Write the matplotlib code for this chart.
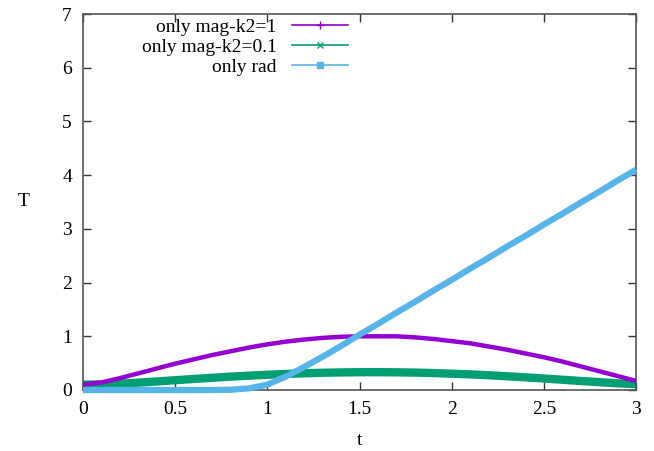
import matplotlib
matplotlib.use("Agg")
import matplotlib.pyplot as plt
from matplotlib.lines import Line2D

t = [0.0, 0.1, 0.2, 0.3, 0.4, 0.5, 0.6, 0.7, 0.8, 0.9, 1.0, 1.1, 1.2, 1.3, 1.4, 1.5,
     1.6, 1.7, 1.8, 1.9, 2.0, 2.1, 2.2, 2.3, 2.4, 2.5, 2.6, 2.7, 2.8, 2.9, 3.0]
mag_k2_1 = [0.10, 0.14, 0.22, 0.31, 0.40, 0.49, 0.57, 0.65, 0.72, 0.79, 0.85, 0.90, 0.94,
            0.97, 0.99, 1.00, 1.00, 1.00, 0.98, 0.95, 0.91, 0.87, 0.81, 0.75, 0.68, 0.61,
            0.53, 0.44, 0.35, 0.26, 0.17]
mag_k2_01 = [0.100, 0.105, 0.118, 0.137, 0.159, 0.182, 0.205, 0.227, 0.248, 0.267, 0.284,
             0.299, 0.311, 0.321, 0.327, 0.331, 0.332, 0.329, 0.324, 0.316, 0.304, 0.291,
             0.275, 0.256, 0.236, 0.214, 0.191, 0.168, 0.146, 0.125, 0.110]
rad = [0.0, 0.0, 0.0, 0.0, 0.0, 0.0, 0.0, 0.0, 0.005, 0.03, 0.10, 0.25, 0.43, 0.62, 0.82,
       1.03, 1.23, 1.44, 1.64, 1.85, 2.05, 2.26, 2.46, 2.67, 2.87, 3.08, 3.28, 3.49,
       3.69, 3.90, 4.10]
labels = ["only mag-k2=1", "only mag-k2=0.1", "only rad"]
xticks = [0, 0.5, 1, 1.5, 2, 2.5, 3]
xticklabels = ["0", "0.5", "1", "1.5", "2", "2.5", "3"]
yticks = [0, 1, 2, 3, 4, 5, 6, 7]

FS = 14
plt.rcParams['font.family'] = ['Liberation Serif', 'DejaVu Serif']
plt.rcParams['font.size'] = FS

fig = plt.figure(figsize=(6.54, 4.51), dpi=100)
ax = fig.add_axes([83/654, 1 - 390/451, (636-83)/654, (390-14)/451])

c1, c2, c3 = "#9400D3", "#009E73", "#56B4E9"
ax.plot(t, mag_k2_1, color=c1, lw=3.2, solid_capstyle='butt', zorder=3)
ax.plot(t, mag_k2_01, color=c2, lw=6.0, solid_capstyle='butt', zorder=2)
ax.plot(t, rad, color=c3, lw=4.5, solid_capstyle='butt', zorder=4, clip_on=False)

ax.set_xlim(0, 3)
ax.set_ylim(0, 7)
ax.set_xticks(xticks)
ax.set_xticklabels(xticklabels)
ax.set_yticks(yticks)
ax.tick_params(direction='in', length=6, width=1, top=True, right=True,
               color='#333333', labelsize=FS, pad=8)
for s in ax.spines.values():
    s.set_color('#555555')
    s.set_linewidth(1.2)
ax.set_xlabel("t", fontsize=FS, labelpad=10)
ax.set_ylabel("T", fontsize=FS, labelpad=28, rotation=0, va='center')

handles = [Line2D([], [], color=c1, lw=1.2, marker='+', ms=6),
           Line2D([], [], color=c2, lw=1.2, marker='x', ms=5),
           Line2D([], [], color=c3, lw=1.2, marker='s', ms=4)]
leg = ax.legend(handles, labels, loc='upper left', bbox_to_anchor=(0.075, 1.035),
                frameon=False, markerfirst=False, handlelength=2.85,
                labelspacing=0.12, fontsize=FS, handletextpad=0.8)
vp = leg._legend_box._children[-1]._children[0]
vp.align = "right"

fig.savefig("out.png", dpi=100)
